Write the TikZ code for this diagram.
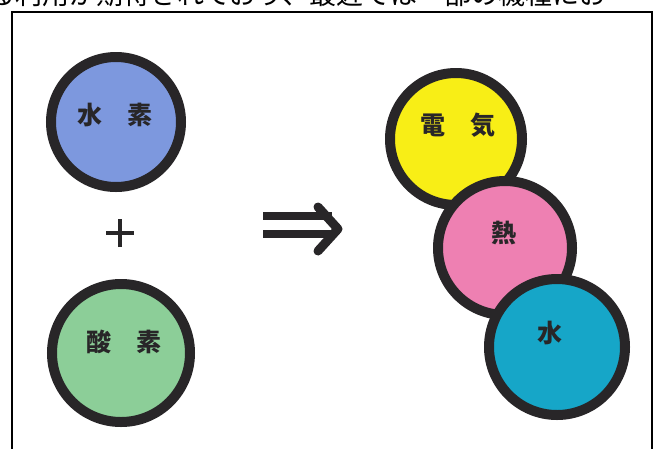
\documentclass[tikz,border=0pt]{standalone}
\usepackage{fontspec}
\newfontfamily\jp{Noto Sans CJK JP}
\definecolor{edge}{RGB}{40,38,40}
\definecolor{hblue}{RGB}{125,152,222}
\definecolor{ogreen}{RGB}{140,206,152}
\definecolor{eyellow}{RGB}{248,238,22}
\definecolor{hpink}{RGB}{238,128,178}
\definecolor{wcyan}{RGB}{22,166,200}
\tikzset{
  ball/.style={circle, draw=edge, line width=10pt, inner sep=0pt},
  lbl/.style={font=\jp\bfseries\fontsize{25}{25}\selectfont, text=edge, inner sep=0pt},
  bar/.style={draw=edge, line width=8pt},
}
\begin{document}
\begin{tikzpicture}[x=1pt,y=-1pt]
\useasboundingbox (0,0) rectangle (659,448);
\fill[white] (0,0) rectangle (659,448);
% clipped line of text above the frame
\begin{scope}
\clip (0,0) rectangle (659,10);
\node[anchor=base west, inner sep=0pt, font=\jp\fontsize{27}{27}\selectfont, text=black] (top) at (-12,4) {る利用が期待されており、最近では一部の機種にお};
\end{scope}
% frame
\draw[line width=2pt, black] (12,470) -- (12,12) -- (652,12) -- (652,470);
% reactants
\node[ball, fill=hblue, minimum size=130pt] (hyd) at (116,122) {};
\node[lbl] (hydt) at (115,115) {水　素};
\node[ball, fill=ogreen, minimum size=138pt] (oxy) at (121,353) {};
\node[lbl] (oxyt) at (124,342) {酸　素};
% plus
\coordinate (pc) at (120,233);
\draw[edge, line width=4.5pt] ([xshift=-14pt]pc) -- ([xshift=14pt]pc);
\draw[edge, line width=4.5pt] ([yshift=-14pt]pc) -- ([yshift=14pt]pc);
% arrow
\coordinate (ab) at (263,225);
\coordinate (at) at (338,229);
\draw[bar] (263,216) -- (332,216);
\draw[bar] (263,234) -- (332,234);
\draw[edge, line width=9pt, line join=round, line cap=round] (318,207) -- (at) -- (318,251);
% products
\node[ball, fill=eyellow, minimum size=132pt] (ele) at (456,139) {};
\node[lbl] (elet) at (458,125) {電　気};
\node[ball, fill=hpink, minimum size=134pt] (heat) at (505,248) {};
\node[lbl] (heatt) at (504,233) {熱};
\node[ball, fill=wcyan, minimum size=136pt] (wat) at (557,347) {};
\node[lbl] (watt) at (550,333) {水};
\end{tikzpicture}
\end{document}
